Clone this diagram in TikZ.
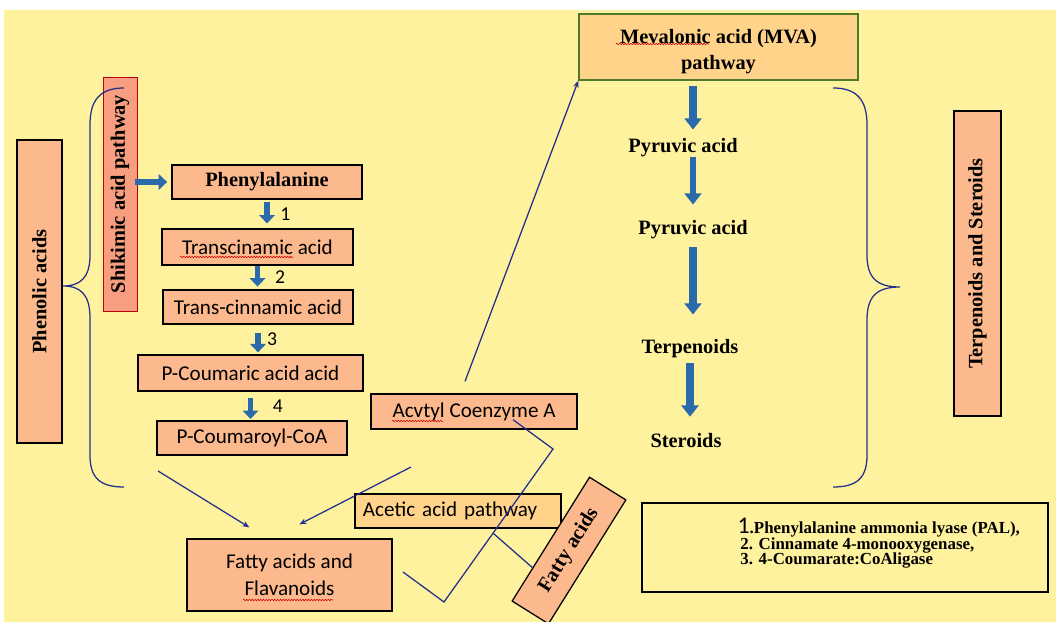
\documentclass[tikz,border=0pt]{standalone}
\usepackage{fontspec}
\setmainfont{Liberation Serif}
\setsansfont{Carlito}
\usepackage{xcolor}
\usetikzlibrary{positioning,calc,arrows.meta,decorations.pathmorphing}

\definecolor{paper}{HTML}{FFF29F}
\definecolor{salmon}{HTML}{FBB98D}
\definecolor{shikred}{HTML}{F79E80}
\definecolor{peach}{HTML}{FFD38A}
\definecolor{navy}{HTML}{23308C}
\definecolor{steel}{HTML}{2B6AAA}
\definecolor{leaf}{HTML}{4E7A2A}

\tikzset{
  box/.style={draw=black, line width=0.9pt, fill=salmon, inner sep=0pt, align=center},
  serifbox/.style={box, font=\bfseries\fontsize{14.5}{18.5}\selectfont},
  sansbox/.style={box, font=\sffamily\fontsize{15}{19}\selectfont},
  plain/.style={inner sep=0pt, text height=10pt, text depth=3pt, font=\bfseries\fontsize{14.5}{17}\selectfont},
  fatarrow/.style={steel, line width=4.2pt, -{Triangle[width=11pt,length=6pt]}, shorten <=2pt, shorten >=2pt},
  bigarrow/.style={steel, line width=5.6pt, -{Triangle[width=12pt,length=8pt]}},
  link/.style={navy, line width=0.9pt},
  steplabel/.style={text=black, font=\sffamily\fontsize{14}{16}\selectfont, inner sep=0pt},
  wavy/.style={red!80!black, line width=0.4pt, decorate, decoration={snake, amplitude=0.5pt, segment length=2pt}}
}

\begin{document}
\begin{tikzpicture}[x=0.025cm, y=-0.025cm]
\def\leftbrace{(124,88) .. controls (100,88) and (90,100) .. (90,125) -- (90,255) .. controls (90,278) and (80,286) .. (63,286) .. controls (80,286) and (90,294) .. (90,318) -- (90,455) .. controls (90,478) and (100,487) .. (124,487)}
\def\rightbrace{(833,88) .. controls (857,88) and (867,100) .. (867,125) -- (867,255) .. controls (867,278) and (877,287) .. (900,287) .. controls (877,287) and (867,296) .. (867,320) -- (867,455) .. controls (867,478) and (857,487) .. (833,487)}
\useasboundingbox (0,0) rectangle (1056,622);
\fill[white] (0,0) rectangle (1056,622);
\fill[paper] (4,10) rectangle (1056,622);

% shikimic side
\node[serifbox, rotate=90, minimum width=7.575cm, minimum height=1.125cm] (phenolic) at (39.5,291.5) {Phenolic acids};
\node[serifbox, fill=shikred, draw=red!75!black, line width=0.6pt, rotate=90, minimum width=5.85cm, minimum height=0.85cm] (shikimic) at (120,194) {Shikimic acid pathway};
\node[serifbox, minimum width=4.75cm, minimum height=0.85cm] (phe) at (267,182) {Phenylalanine};
\node[sansbox, minimum width=4.775cm, minimum height=0.9cm] (tca) at (257.5,247) {Transcinamic acid};
\node[sansbox, minimum width=4.75cm, minimum height=0.85cm] (tcin) at (258,307) {Trans-cinnamic acid};
\node[sansbox, minimum width=5.625cm, minimum height=0.9cm] (pca) at (250.5,373) {P-Coumaric acid acid};
\node[sansbox, minimum width=4.75cm, minimum height=0.85cm] (pcoa) at (252,438) {P-Coumaroyl-CoA};
\node[sansbox, minimum width=5.125cm, minimum height=1.8cm] (fat) at (289.5,575) {Fatty acids and\\Flavanoids};

% acetate part
\node[sansbox, minimum width=5.15cm, minimum height=0.875cm] (acetyl) at (474,411.5) {Acvtyl Coenzyme A};
\node[sansbox, fill=peach, minimum height=0.85cm, inner xsep=0.2cm, text width=4.75cm, align=left] (acetic) at (458,511) {Acetic acid pathway};
\node[serifbox, rotate=58, minimum width=3.65cm, minimum height=1.07cm] (fa) at (569,550.5) {Fatty acids};

% mevalonate side
\node[serifbox, fill=peach, draw=leaf, minimum width=6.975cm, minimum height=1.65cm] (mva) at (718.5,47) {\rule{0pt}{16pt}Mevalonic acid (MVA)\\pathway};
\node[plain] (pyr1) at (683,148) {Pyruvic acid};
\node[plain] (pyr2) at (693,230) {Pyruvic acid};
\node[plain] (terp) at (690,349) {Terpenoids};
\node[plain] (ster) at (686,443) {Steroids};
\node[serifbox, rotate=90, minimum width=7.625cm, minimum height=1.175cm] (ts) at (977.5,263.5) {Terpenoids and Steroids};

% enzymes
\node[draw=black, line width=0.9pt, minimum width=10.15cm, minimum height=2.225cm] (legend) at (845,547.5) {};
\node[anchor=west, align=left, inner sep=0pt, font=\bfseries\fontsize{12}{11}\selectfont] (enzymes) at ($(legend.west)+(96,-4)$)
  {{\sffamily\mdseries\fontsize{17}{11}\selectfont 1}.Phenylalanine ammonia lyase (PAL),\\
   \,2. Cinnamate 4-monooxygenase,\\
   \,3. 4-Coumarate:CoAligase};

% braces
\draw[link] \leftbrace;
\draw[link] \rightbrace;

% block arrows
\draw[fatarrow, shorten <=-2pt, shorten >=3pt] (shikimic.south |- phe.west) -- (phe.west);
\draw[fatarrow, shorten >=3.5pt] (phe.south) -- node[steplabel, xshift=13pt] {1} (phe.south |- tca.north);
\draw[fatarrow, shorten <=0pt] (tca.south) -- node[steplabel, xshift=16pt] {2} (tca.south |- tcin.north);
\draw[fatarrow, shorten <=5.7pt, shorten >=1.4pt] (tcin.south) -- node[steplabel, xshift=10pt] {3} (tcin.south |- pca.north);
\draw[fatarrow, shorten <=4.3pt, shorten >=1pt] (pca.south) -- node[steplabel, xshift=19.5pt] {4} (pca.south |- pcoa.north);

\draw[bigarrow, shorten <=3.5pt, shorten >=6.4pt] (mva.south -| pyr2) -- (pyr1.north -| pyr2);
\draw[bigarrow, line width=4.2pt, shorten >=11.4pt] (pyr1.south -| pyr2) -- (pyr2.north);
\draw[bigarrow, shorten <=5.7pt, shorten >=17.8pt] (pyr2.south) -- (pyr2.south |- terp.north);
\draw[bigarrow, shorten <=3.5pt, shorten >=12pt] (terp.south) -- (terp.south |- ster.north);

% thin links
\coordinate (phenend) at (158,471);
\coordinate (acetylend) at (411,467);
\coordinate (zig1) at (553,449);
\coordinate (zig2) at (444,602);
\coordinate (zig3) at (403,572);
\draw[link, -{Stealth[length=5pt,width=4pt]}] ($(acetyl.north)+(-9,-12)$) -- (mva.south west);
\draw[link, -{Stealth[length=5pt,width=4pt]}] (phenend) -- ($(fat.north west)+(63,-11)$);
\draw[link, -{Stealth[length=5pt,width=4pt]}] (acetylend) -- ($(fat.north west)+(113,-14)$);
\draw[link] ($(acetyl.south)+(39,-10)$) -- (zig1) -- (zig2) -- (zig3);
\draw[link] ($(zig1)!0.55!(zig2)$) -- ($(fa.north)!0.46!(fa.north west)$);

% spell-check squiggles
\draw[wavy] (180,257) -- (293,257);
\draw[wavy] (243,600) -- (333,600);
\draw[wavy] (392,421) -- (443,421);
\draw[wavy] (616,44) -- (709,44);
\end{tikzpicture}
\end{document}
